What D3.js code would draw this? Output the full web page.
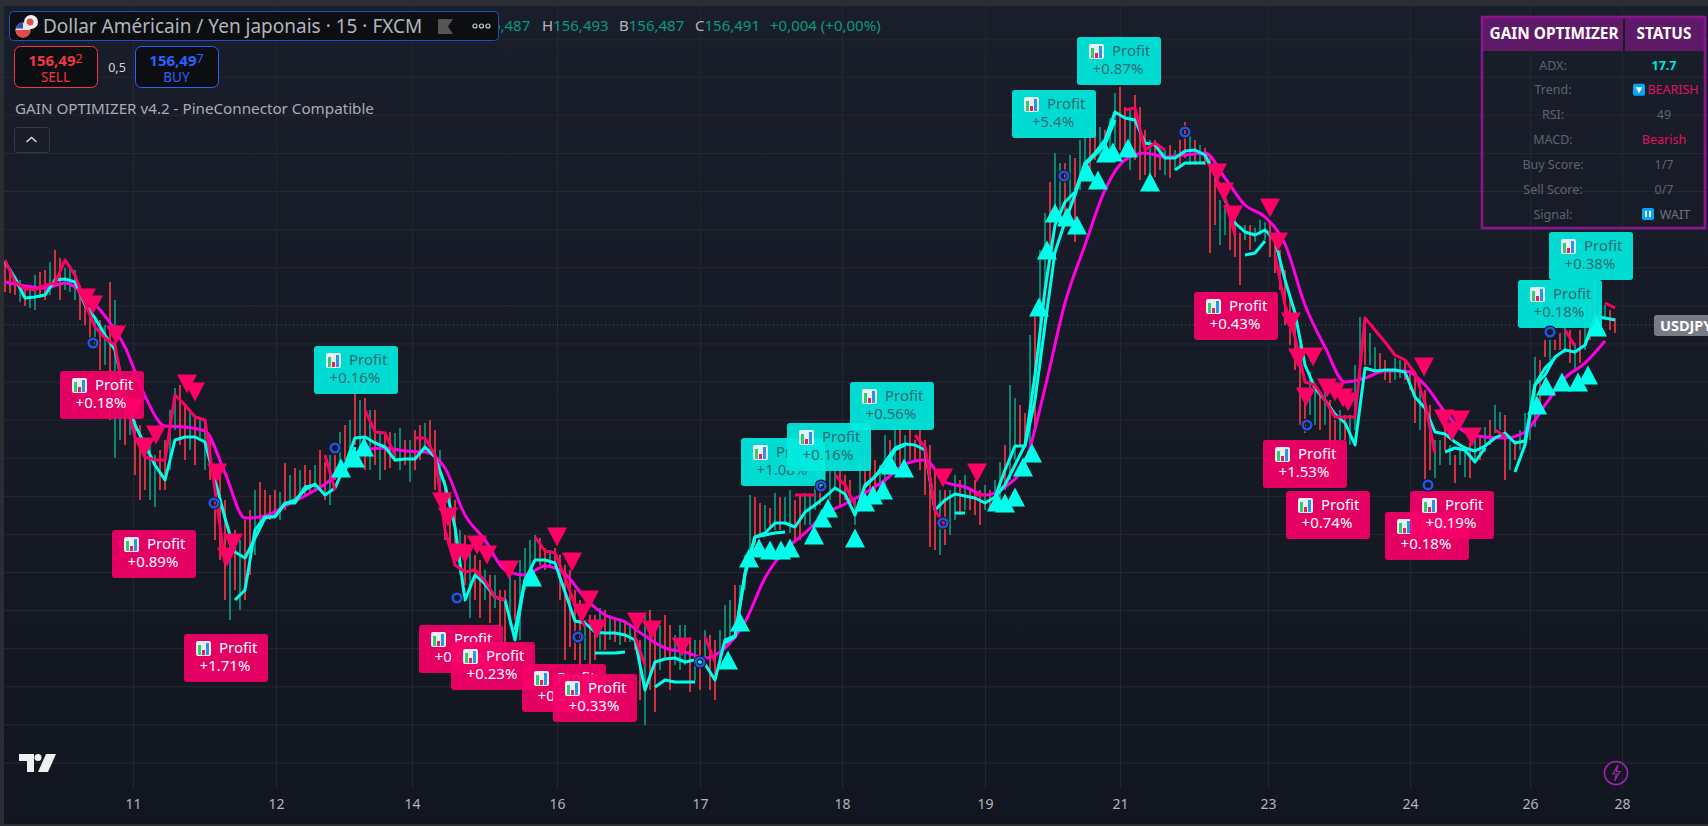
<!DOCTYPE html>
<html>
<head>
<meta charset="utf-8">
<title>USDJPY 15</title>
<script src="https://cdn.jsdelivr.net/npm/d3@7"></script>
<style>
html, body { margin: 0; padding: 0; background: #2a2e39; overflow: hidden; }
svg { display: block; }
text { font-family: "Noto Sans", sans-serif; }
</style>
</head>
<body>
<div id="chart"></div>
<script>
////////////////////////////////////////////////////////////////////////////////
// Data, read off the picture (one candle per slot, every line sampled on slots)
////////////////////////////////////////////////////////////////////////////////

var candleHigh = [
157.12,157.04,156.96,156.94,156.89,156.84,156.99,157.02,157.04,157.12,157.24,157.16,157.06,157.09,157.04,156.89,156.79,156.69,156.56,156.54,
156.49,156.92,156.74,155.84,155.74,155.69,155.54,155.49,155.24,155.34,155.19,155.24,155.34,155.64,155.86,155.89,155.69,155.64,155.59,155.54,
155.49,155.34,155.04,155.04,154.74,154.34,154.44,154.34,154.54,154.64,154.84,154.92,154.84,154.79,154.84,154.82,155.11,154.99,155.06,155.04,
155.09,155.04,155.09,155.24,155.12,155.19,155.19,155.42,155.49,155.54,155.81,155.74,155.76,155.64,155.64,155.42,155.39,155.42,155.41,155.46,
155.34,155.34,155.44,155.49,155.51,155.54,155.44,155.24,154.94,154.79,154.74,154.44,154.39,154.24,154.19,154.14,154.04,153.99,153.99,153.84,
153.84,153.99,153.94,154.14,154.26,154.34,154.39,154.36,154.26,154.24,154.26,154.19,154.09,154.04,153.84,153.74,153.54,153.59,153.59,153.66,
153.64,153.59,153.56,153.54,153.54,153.49,153.49,153.34,153.59,153.64,153.49,153.49,153.59,153.49,153.39,153.49,153.49,153.34,153.34,153.34,
153.44,153.39,153.34,153.44,153.69,153.74,153.89,153.89,154.19,154.79,154.77,154.71,154.69,154.66,154.81,154.77,154.77,154.84,154.74,154.79,
154.81,154.79,154.94,155.04,155.09,155.07,155.09,155.04,154.99,154.94,154.74,155.14,155.17,155.17,155.14,155.09,155.39,155.34,155.46,155.46,
155.39,155.46,155.34,155.44,155.34,155.29,155.04,154.84,154.84,154.84,154.99,154.94,154.99,154.84,154.94,154.84,154.89,154.84,154.94,155.12,
155.29,155.89,155.76,155.69,155.61,156.39,156.57,157.24,157.61,157.92,158.21,158.11,158.11,158.19,158.16,158.34,158.37,158.49,158.72,158.47,
158.44,158.56,158.81,158.87,158.67,158.64,158.79,158.67,158.44,158.34,158.34,158.24,158.24,158.29,158.24,158.34,158.52,158.44,158.34,158.29,
158.26,158.17,157.99,157.74,157.69,157.59,157.52,157.41,157.49,157.49,157.46,157.54,157.52,157.51,157.31,157.24,157.04,156.79,156.64,156.29,
155.84,156.02,155.91,155.81,155.84,155.74,155.54,155.64,155.59,155.59,156.09,156.57,156.56,156.41,156.27,156.21,156.14,156.04,156.16,156.14,
156.12,156.04,155.99,155.94,155.84,155.69,155.34,155.34,155.57,155.29,155.19,155.29,155.27,155.31,155.37,155.39,155.47,155.54,155.69,155.62,
155.59,155.34,155.34,155.44,155.61,155.94,156.17,156.14,156.34,156.34,156.34,156.41,156.47,156.44,156.31,156.44,156.67,156.77,156.94,156.69,
156.69,156.64,156.56];

var candleLow = [
156.82,156.81,156.79,156.72,156.68,156.66,156.64,156.76,156.74,156.79,156.89,156.74,156.84,156.82,156.74,156.54,156.49,156.32,156.29,156.04,
156.09,155.54,155.16,155.34,155.29,155.39,154.99,154.74,154.84,154.74,154.67,154.84,154.84,155.04,155.44,155.29,155.14,155.24,155.09,155.34,
155.04,154.94,154.34,154.14,153.74,153.54,153.84,153.64,153.74,153.99,154.19,154.44,154.54,154.54,154.59,154.54,154.64,154.69,154.74,154.74,
154.79,154.82,154.84,154.86,154.74,154.69,154.94,155.04,155.14,155.22,155.29,155.19,155.04,155.04,155.09,154.94,155.04,155.06,155.12,155.04,
155.09,154.92,155.04,155.14,155.26,155.24,154.84,154.74,154.34,154.29,154.14,153.99,153.89,153.56,153.74,153.56,153.74,153.51,153.66,153.34,
153.24,153.49,153.54,153.34,153.84,153.99,154.14,154.09,154.04,154.06,154.09,153.74,153.14,153.27,153.14,153.07,153.14,153.09,153.14,153.24,
153.24,153.34,153.32,153.29,153.32,153.32,153.24,152.74,152.49,152.84,152.62,153.04,153.14,152.84,153.09,153.04,153.09,152.82,152.94,152.84,
153.09,152.84,152.74,153.09,153.24,153.34,153.49,153.64,153.84,154.14,154.29,154.37,154.44,154.44,154.44,154.44,154.49,154.41,154.34,154.34,
154.49,154.49,154.64,154.69,154.84,154.74,154.87,154.69,154.74,154.69,154.49,154.64,154.74,154.84,154.79,154.84,154.84,154.99,155.04,155.09,
155.09,155.14,155.14,155.04,154.79,154.27,154.24,154.19,154.29,154.39,154.54,154.59,154.64,154.64,154.59,154.49,154.64,154.64,154.69,154.74,
154.84,154.94,155.14,155.29,155.29,155.29,155.44,156.04,156.84,157.24,157.59,157.49,157.54,157.59,157.32,157.84,157.94,158.04,158.14,158.19,
158.24,158.24,158.29,158.24,158.19,158.04,158.14,157.94,157.99,157.84,157.97,158.04,157.99,157.96,158.04,158.09,158.16,158.09,158.09,158.11,
158.09,157.21,157.49,157.29,157.39,157.24,157.17,156.89,157.34,157.24,157.32,157.39,157.34,157.17,157.01,156.84,156.49,156.29,156.04,155.49,
155.41,155.59,155.49,155.44,155.49,154.89,155.17,155.34,155.34,155.29,155.44,155.94,156.09,156.09,156.04,156.01,155.94,155.91,155.94,155.96,
155.94,155.84,155.51,155.44,154.94,155.04,154.96,155.09,155.24,155.09,154.91,155.09,154.97,154.96,155.11,155.14,155.22,155.29,155.41,155.44,
154.94,155.04,155.14,155.24,155.29,155.34,155.47,155.69,156.17,156.14,156.24,156.24,156.21,156.11,156.04,156.11,156.24,156.34,156.47,156.44,
156.54,156.44,156.41];

var candleDir = (
"rrrgrggrrgrrgggrrrgr" + "grggrgrrrggrrggrrgrg" + "grrrrgrgrrgrrrrgrgrg" + "rrgrrgrgrgrgrgrgrrgg" +
"rgrrgrrgrrrgrgrrgrgr" + "rgrggggrrgrrrrrrgrrg" + "rgrgrgrrgrrgrrgggrgr" + "grrgggrgggrrgrgrggrr" +
"gggrgggrrrggrrrggrgr" + "grrrrrrgrggrgrrrgrgg" + "rggrrgrggrggrgrggrrg" + "rggrrgrrrgrrgrgrrgrg" +
"rrrggrrrgrgggrrrrrrr" + "rggrgrrgrgggrggrrrgg" + "rrrgrrggrgrggrgrgrgg" + "rgrggggrrgrrgrgrgrrg" + "grr").split("");

// magenta slow average, one value every 4 slots
var slowLine = [
156.92,156.88,156.86,156.91,156.79,156.58,156.27,155.78,155.48,155.47,155.43,155.01,154.56,154.58,154.68,154.78,154.90,155.05,155.24,155.26,
155.23,155.22,155.06,154.59,154.34,154.04,153.99,154.08,154.00,153.76,153.59,153.52,153.38,153.26,153.22,153.16,153.26,153.52,153.96,154.24,
154.41,154.60,154.70,154.81,154.94,155.10,155.14,154.92,154.87,154.79,154.87,155.11,155.86,156.71,157.29,157.84,158.14,158.21,158.17,158.19,
158.21,157.96,157.69,157.57,157.30,156.69,156.27,155.92,155.96,156.03,156.03,155.89,155.62,155.42,155.37,155.36,155.42,155.69,155.96,156.11,
156.33];

// cyan fast average, one value every 2 slots
var fastLine = [
157.12,156.96,156.76,156.77,156.79,156.94,156.95,156.92,156.69,156.56,
156.39,156.24,155.79,155.49,155.29,155.09,154.94,155.34,155.37,155.37,
155.32,154.94,154.56,154.22,154.16,154.36,154.56,154.58,154.70,154.74,
154.84,154.90,154.79,154.86,155.09,155.36,155.37,155.31,155.27,155.14,
155.15,155.15,155.27,155.17,154.89,154.47,153.74,153.99,153.90,153.77,
153.74,153.34,153.94,154.14,154.14,154.11,153.82,153.53,153.51,153.42,
153.41,153.41,153.39,153.34,152.84,153.12,153.15,153.16,153.12,153.14,
153.10,152.94,153.34,153.38,153.99,154.37,154.41,154.51,154.51,154.47,
154.62,154.69,154.77,154.86,154.80,154.59,154.89,154.97,155.12,155.26,
155.30,155.29,155.24,154.64,154.74,154.80,154.78,154.76,154.71,154.77,
154.89,155.09,155.29,155.99,156.84,157.49,157.72,157.82,158.11,158.21,
158.34,158.62,158.56,158.54,158.31,158.29,158.16,158.16,158.23,158.24,
158.19,157.99,157.74,157.51,157.42,157.39,157.44,157.34,156.94,156.61,
156.09,155.86,155.74,155.60,155.51,155.29,156.06,156.03,156.04,156.04,
156.02,155.77,155.66,155.42,155.40,155.32,155.26,155.23,155.28,155.36,
155.41,155.31,155.33,155.89,155.99,156.17,156.24,156.22,156.29,156.57,
156.56,156.54];

// stepped trail, one value every 2 slots; pink inside bearRuns, cyan elsewhere
var trailLine = [
157.14,156.92,156.85,156.84,156.89,156.91,157.14,156.99,156.71,156.47,
156.36,156.29,155.74,155.37,155.17,155.14,155.14,155.79,155.69,155.57,
155.54,154.84,154.11,153.74,153.84,154.44,154.57,154.57,154.71,154.71,
154.87,154.89,155.19,154.84,155.04,155.27,155.64,155.42,155.41,155.19,
155.14,155.36,155.36,155.19,154.44,154.09,154.02,154.04,153.93,153.77,
153.74,153.44,153.94,154.37,154.23,154.21,153.96,153.69,153.47,153.21,
153.21,153.21,153.22,153.37,153.09,152.87,152.94,152.92,152.92,152.92,
153.37,153.12,153.31,153.37,154.01,154.37,154.39,154.41,154.42,154.79,
154.79,154.79,154.84,154.99,154.89,154.69,154.87,154.98,155.06,155.24,
155.29,155.39,155.27,154.64,154.49,154.61,154.61,154.79,154.79,154.77,
155.04,155.28,155.28,155.74,156.49,157.22,157.52,157.79,158.09,158.19,
158.29,158.54,158.64,158.66,158.24,158.31,158.24,158.04,158.11,158.11,
158.11,157.99,157.76,157.39,157.19,157.21,157.33,157.19,156.69,156.37,
155.92,155.89,155.74,155.57,155.57,155.57,156.56,156.44,156.32,156.19,
156.14,156.01,155.71,155.21,155.22,155.26,155.24,155.12,155.26,155.44,
155.38,155.02,155.29,155.89,156.06,156.16,156.44,156.28,156.29,156.54,
156.71,156.66];

var bearRuns = [[0,22],[32,33],[36,39],[41,50],[53,58],[63,64],[70,71],[79,81],[83,85],[91,94],[97,98],[112,116],[121,123],[127,143],[149,150],[156,157],[160,161]];

var sellBars = [16.2,17.6,22.2,25.6,28,30.2,36.4,38,42.4,45.6,44.4,87.4,88.6,90.4,92,94.4,96.4,100.8,110.4,113.4,116.8,115.4,118.4,126.4,129.4,135.4,187.6,194.4,242.4,243.8,245.6,253,254.6,257.2,258.6,261.6,260.2,264.4,266,267.6,268.6,283.8,287.8,291,289.4,293.4];
var sellPrices = [156.76,156.69,156.39,155.66,155.27,155.39,155.90,155.82,155.01,154.31,154.17,154.72,154.57,154.21,154.20,154.29,154.19,154.04,154.37,154.12,153.74,153.61,153.45,153.52,153.44,153.27,154.96,155.01,158.01,157.82,157.59,157.66,157.32,156.52,156.16,156.17,155.77,155.86,155.82,155.76,155.72,156.07,155.55,155.54,155.42,155.37];

var buyBars = [67.2,70,71.8,105.4,144.6,147,148.8,150.8,153,155.2,157,161.8,163.4,164.6,170,172,173.6,175.6,177.2,179.8,198.4,200,202,203.6,205.4,206.8,208.4,210,212.4,214.4,216.4,218.6,220.2,221.6,224.6,229,306.4,308.2,311.4,314.6,316.6,318.4];
var buyPrices = [155.06,155.16,155.27,153.97,153.14,153.52,154.16,154.26,154.24,154.24,154.26,154.39,154.56,154.66,154.36,154.72,154.79,154.84,155.09,155.06,154.72,154.71,154.77,155.07,155.21,156.67,157.24,157.61,157.57,157.49,158.02,157.94,158.21,158.22,158.26,157.92,155.69,155.88,155.92,155.92,155.99,156.47];

var ringBars = [17.6,41.8,66,90.4,114.6,139,163.2,187.6,211.8,236,260.4,284.6,309];
var ringPrices = [156.31,154.71,155.26,153.76,153.37,153.12,154.88,154.51,157.98,158.42,155.49,154.89,156.42];

var bearLabelBars = [19.4,29.8,44.2,91.2,97.6,111.8,118,246.2,260,264.6,284.4,289.4];
var bearLabelPrices = [156.03,154.44,153.40,153.49,153.32,153.10,153.00,156.82,155.34,154.83,154.62,154.83];
var bearLabelTexts = ["+0.18%","+0.89%","+1.71%","+0.62%","+0.23%","+0.25%","+0.33%","+0.43%","+1.53%","+0.74%","+0.18%","+0.19%"];

var bullLabelBars = [70.2,155.6,164.8,177.4,209.8,222.8,311,317.2];
var bullLabelPrices = [156.28,155.36,155.51,155.92,158.84,159.37,156.94,157.42];
var bullLabelTexts = ["+0.16%","+1.08%","+0.16%","+0.56%","+5.4%","+0.87%","+0.18%","+0.38%"];

var tickBars = [25.6,54.2,81.4,110.4,139,167.4,196,223,252.6,281,305,323.4];
var tickLabels = ["11","12","14","16","17","18","19","21","23","24","26","28"];

var tableLabels = ["ADX:","Trend:","RSI:","MACD:","Buy Score:","Sell Score:","Signal:"];
var tableValues = ["17.7","BEARISH","49","Bearish","1/7","0/7","WAIT"];

var lastPrice = 156.49;
var gridStep = 0.381;

////////////////////////////////////////////////////////////////////////////////
// Settings
////////////////////////////////////////////////////////////////////////////////

var width = 1708, height = 826;
var axisTop = 789;
var RED = "#f23645", GREEN = "#089981", PINK = "#ff0066", CYAN = "#00ffea", MAGENTA = "#ff00e0";

var svg = d3.select("#chart").append("svg").attr("width", width).attr("height", height);

var x = d3.scaleLinear().domain([0, 340.6]).range([5, width]);
var y = d3.scaleLinear().domain([159.74, 151.48]).range([0, height]);

var grad = svg.append("defs").append("linearGradient")
    .attr("id", "bg").attr("x1", 0).attr("x2", 0).attr("y1", 0).attr("y2", 1);
grad.append("stop").attr("offset", 0).attr("stop-color", "#1a1e2b");
grad.append("stop").attr("offset", 1).attr("stop-color", "#121620");

svg.append("rect").attr("width", width).attr("height", height).attr("fill", "#2a2e33");
svg.append("rect").attr("x", 4).attr("y", 6).attr("width", width - 4).attr("height", height - 8).attr("fill", "url(#bg)");

////////////////////////////////////////////////////////////////////////////////
// Grid and time axis
////////////////////////////////////////////////////////////////////////////////

svg.append("g").selectAll("line")
    .data(d3.range(152.11, 159.4, gridStep))
    .join("line")
    .attr("x1", 4).attr("x2", width)
    .attr("y1", function (d) { return y(d); }).attr("y2", function (d) { return y(d); })
    .attr("stroke", "#252933").attr("stroke-width", 1);

var xAxis = d3.axisBottom(x)
    .tickValues(tickBars)
    .tickFormat(function (d, i) { return tickLabels[i]; })
    .tickSize(-axisTop + 6)
    .tickPadding(10);

var axisG = svg.append("g").attr("transform", "translate(0," + axisTop + ")").call(xAxis);
axisG.select(".domain").remove();
axisG.selectAll("line").attr("stroke", "#22262f");
axisG.selectAll("text").attr("fill", "#b2b5be").attr("font-size", 14).attr("font-family", "'Noto Sans'");

svg.append("line")
    .attr("x1", 5).attr("x2", 1654)
    .attr("y1", y(lastPrice)).attr("y2", y(lastPrice))
    .attr("stroke", "#5d606b").attr("stroke-dasharray", "1 3");

////////////////////////////////////////////////////////////////////////////////
// Candles and lines
////////////////////////////////////////////////////////////////////////////////

svg.append("g").selectAll("line")
    .data(candleHigh)
    .join("line")
    .attr("x1", function (d, i) { return x(i); })
    .attr("x2", function (d, i) { return x(i); })
    .attr("y1", function (d) { return y(d); })
    .attr("y2", function (d, i) { return y(candleLow[i]); })
    .attr("stroke", function (d, i) { return candleDir[i] === "g" ? GREEN : RED; })
    .attr("stroke-width", 1.7);

var lineG = svg.append("g").attr("fill", "none").attr("stroke-linejoin", "round").attr("stroke-width", 3);

var slowPath = d3.line()
    .x(function (d, i) { return x(i * 4); })
    .y(function (d) { return y(d); })
    .curve(d3.curveMonotoneX);

var fastPath = d3.line()
    .x(function (d, i) { return x(i * 2); })
    .y(function (d) { return y(d); });

lineG.append("path").attr("d", slowPath(slowLine)).attr("stroke", MAGENTA);
lineG.append("path").attr("d", fastPath(fastLine)).attr("stroke", CYAN);

// trail: cut into runs so that each colour keeps its own gap
function inBearRun(k) {
    return bearRuns.some(function (r) { return k >= r[0] && k <= r[1]; });
}
var trailPoints = trailLine.map(function (v, k) { return { k: k, v: v, bear: inBearRun(k) }; });
var trailPath = d3.line()
    .x(function (d) { return x(d.k * 2); })
    .y(function (d) { return y(d.v); });
var runStart = 0;
trailPoints.forEach(function (p, k) {
    var next = trailPoints[k + 1];
    if (!next || next.bear !== p.bear) {
        lineG.append("path")
            .attr("d", trailPath(trailPoints.slice(runStart, k + 1)))
            .attr("stroke", p.bear ? PINK : CYAN);
        runStart = k + 1;
    }
});

////////////////////////////////////////////////////////////////////////////////
// Profit labels
////////////////////////////////////////////////////////////////////////////////

function drawLabels(bars, prices, texts, fill, textFill) {
    var g = svg.append("g");
    bars.forEach(function (b, i) {
        var left = x(b) - 42, top = y(prices[i]);
        var one = g.append("g").attr("transform", "translate(" + left + "," + top + ")");
        one.append("rect").attr("width", 84).attr("height", 48).attr("rx", 3)
            .attr("fill", fill).attr("fill-opacity", 0.93);
        // chart emoji
        var ic = one.append("g").attr("transform", "translate(12,7)");
        ic.append("rect").attr("width", 15).attr("height", 15).attr("rx", 2).attr("fill", "#eceff1");
        ic.append("rect").attr("x", 2).attr("y", 4).attr("width", 3).attr("height", 10).attr("fill", "#2ecc71");
        ic.append("rect").attr("x", 6).attr("y", 9).attr("width", 3).attr("height", 5).attr("fill", "#e91e63");
        ic.append("rect").attr("x", 10).attr("y", 2).attr("width", 3).attr("height", 12).attr("fill", "#2196f3");
        one.append("text").attr("x", 35).attr("y", 19).attr("font-size", 15)
            .attr("fill", textFill).text("Profit");
        one.append("text").attr("x", 41).attr("y", 37).attr("font-size", 15)
            .attr("text-anchor", "middle").attr("fill", textFill).text(texts[i]);
    });
}
drawLabels(bearLabelBars, bearLabelPrices, bearLabelTexts, "#f50068", "#ffffff");
drawLabels(bullLabelBars, bullLabelPrices, bullLabelTexts, "#00ebe0", "#2f6a72");

////////////////////////////////////////////////////////////////////////////////
// Markers
////////////////////////////////////////////////////////////////////////////////

function triangle(cx, cy, dir) {
    var p = d3.path();
    p.moveTo(cx - 10, cy - dir * 9.5);
    p.lineTo(cx + 10, cy - dir * 9.5);
    p.lineTo(cx, cy + dir * 9.5);
    p.closePath();
    return p.toString();
}

svg.append("g").selectAll("path")
    .data(buyBars)
    .join("path")
    .attr("d", function (d, i) { return triangle(x(d), y(buyPrices[i]), -1); })
    .attr("fill", CYAN);

svg.append("g").selectAll("path")
    .data(sellBars)
    .join("path")
    .attr("d", function (d, i) { return triangle(x(d), y(sellPrices[i]), 1); })
    .attr("fill", PINK);

var rings = svg.append("g");
rings.selectAll("circle.halo")
    .data(ringBars)
    .join("circle")
    .attr("class", "halo")
    .attr("cx", function (d) { return x(d); })
    .attr("cy", function (d, i) { return y(ringPrices[i]); })
    .attr("r", 4.3)
    .attr("fill", "none")
    .attr("stroke", "#131722")
    .attr("stroke-width", 4.6);
rings.selectAll("circle.ring")
    .data(ringBars)
    .join("circle")
    .attr("class", "ring")
    .attr("cx", function (d) { return x(d); })
    .attr("cy", function (d, i) { return y(ringPrices[i]); })
    .attr("r", 4.3)
    .attr("fill", "none")
    .attr("stroke", "#2155e0")
    .attr("stroke-width", 2.6);

////////////////////////////////////////////////////////////////////////////////
// Price tag at the right edge
////////////////////////////////////////////////////////////////////////////////

svg.append("rect").attr("x", 1654).attr("y", 315).attr("width", 70).attr("height", 21).attr("rx", 3).attr("fill", "#787b86");
svg.append("text").attr("x", 1660).attr("y", 331).attr("font-size", 14.5).attr("font-weight", 700)
    .attr("fill", "#ffffff").text("USDJPY");

////////////////////////////////////////////////////////////////////////////////
// Header: symbol box, OHLC, trade buttons, indicator title
////////////////////////////////////////////////////////////////////////////////

var ohlcItems = [["O", "156,487", 463], ["H", "156,493", 542], ["B", "156,487", 619], ["C", "156,491", 695]];
var head = svg.append("g");
ohlcItems.forEach(function (it) {
    var t = head.append("text").attr("x", it[2]).attr("y", 31).attr("font-size", 15).attr("fill", GREEN);
    t.append("tspan").attr("fill", "#b2b5be").text(it[0]);
    t.append("tspan").text(it[1]);
});
head.append("text").attr("x", 770).attr("y", 31).attr("font-size", 15).attr("fill", GREEN).text("+0,004 (+0,00%)");

head.append("rect").attr("x", 9.5).attr("y", 11.5).attr("width", 489).attr("height", 29).attr("rx", 4)
    .attr("fill", "#0d0e11").attr("stroke", "#1f4fc8");
// flags
head.append("circle").attr("cx", 31).attr("cy", 22).attr("r", 7).attr("fill", "#f4f4f4");
head.append("circle").attr("cx", 30).attr("cy", 22).attr("r", 3.5).attr("fill", "#e5484d");
head.append("circle").attr("cx", 23).attr("cy", 30).attr("r", 7.5).attr("fill", "#e8e8e8");
head.append("path").attr("d", "M15.5 30a7.5 7.5 0 0 0 15 0z").attr("fill", "#e5484d");
head.append("path").attr("d", "M16 27a7.5 7.5 0 0 1 7-4.5v6h-7.5z").attr("fill", "#2c4fb0");

head.append("text").attr("x", 43).attr("y", 33).attr("font-size", 19).attr("fill", "#b2b5be")
    .text("Dollar Américain  / Yen japonais · 15 · FXCM");
head.append("path").attr("d", "M438 19h15l-5 7.5 5 7.5h-15z").attr("fill", "#555");
[475, 481.5, 488].forEach(function (cx) {
    head.append("circle").attr("cx", cx).attr("cy", 26).attr("r", 2).attr("fill", "none")
        .attr("stroke", "#c8cad0").attr("stroke-width", 1.2);
});

function tradeBox(left, color, price, last, name) {
    var g = head.append("g").attr("transform", "translate(" + left + ",46.5)");
    g.append("rect").attr("width", 83).attr("height", 41).attr("rx", 6).attr("fill", "#0d0e11").attr("stroke", color);
    var t = g.append("text").attr("x", 41).attr("y", 19).attr("text-anchor", "middle")
        .attr("font-size", 15).attr("font-weight", 700).attr("fill", color).text(price);
    t.append("tspan").attr("font-size", 12.5).attr("dy", -3).attr("font-weight", 400).text(last);
    g.append("text").attr("x", 41).attr("y", 35).attr("text-anchor", "middle")
        .attr("font-size", 13.5).attr("fill", color).text(name);
}
tradeBox(14.5, RED, "156,49", "2", "SELL");
tradeBox(135.5, "#2962ff", "156,49", "7", "BUY");
head.append("text").attr("x", 117).attr("y", 72).attr("text-anchor", "middle").attr("font-size", 12.5)
    .attr("fill", "#d1d4dc").text("0,5");

head.append("text").attr("x", 15).attr("y", 114).attr("font-size", 15.2).attr("fill", "#a9acb5")
    .text("GAIN OPTIMIZER v4.2 - PineConnector Compatible");
head.append("rect").attr("x", 14.5).attr("y", 127.5).attr("width", 35).attr("height", 25).attr("rx", 3)
    .attr("fill", "none").attr("stroke", "#363a45");
head.append("path").attr("d", "M26.5 142l5-4.5 5 4.5").attr("fill", "none").attr("stroke", "#d1d4dc").attr("stroke-width", 1.6);

////////////////////////////////////////////////////////////////////////////////
// Status table
////////////////////////////////////////////////////////////////////////////////

var table = svg.append("g");
table.append("rect").attr("x", 1482).attr("y", 18).attr("width", 141).attr("height", 33).attr("fill", "#5e1a68");
table.append("rect").attr("x", 1625).attr("y", 18).attr("width", 79).attr("height", 33).attr("fill", "#5e1a68");
table.append("rect").attr("x", 1482).attr("y", 17).attr("width", 223).attr("height", 211)
    .attr("fill", "none").attr("stroke", "#8a168f").attr("stroke-width", 2.6);
table.append("text").attr("x", 1554).attr("y", 39).attr("text-anchor", "middle").attr("font-size", 15.4)
    .attr("font-weight", 700).attr("fill", "#ffffff").text("GAIN OPTIMIZER");
table.append("text").attr("x", 1664).attr("y", 39).attr("text-anchor", "middle").attr("font-size", 15.4)
    .attr("font-weight", 700).attr("fill", "#ffffff").text("STATUS");

var rowY = d3.scalePoint().domain(d3.range(tableLabels.length)).range([65, 214]);
var valueStyle = {
    "17.7": { fill: "#00e5d8", weight: 700, x: 1664 },
    "BEARISH": { fill: "#e0115f", weight: 400, x: 1673 },
    "Bearish": { fill: "#e0115f", weight: 400, x: 1664 },
    "WAIT": { fill: "#6f737f", weight: 400, x: 1675 }
};
tableLabels.forEach(function (name, i) {
    table.append("text").attr("x", 1553).attr("y", rowY(i) + 4.5).attr("text-anchor", "middle")
        .attr("font-size", 12.5).attr("fill", "#5f6370").text(name);
    var st = valueStyle[tableValues[i]] || { fill: "#5f6370", weight: 400, x: 1664 };
    table.append("text").attr("x", st.x).attr("y", rowY(i) + 4.5).attr("text-anchor", "middle")
        .attr("font-size", 12.5).attr("font-weight", st.weight).attr("fill", st.fill).text(tableValues[i]);
});
// trend and signal icons
table.append("rect").attr("x", 1633).attr("y", rowY(1) - 6).attr("width", 12).attr("height", 12).attr("rx", 2).attr("fill", "#03a9f4");
table.append("path").attr("d", "M1635.5 " + (rowY(1) - 2.5) + "h7l-3.5 6z").attr("fill", "#ffffff");
table.append("rect").attr("x", 1642).attr("y", rowY(6) - 6).attr("width", 12).attr("height", 12).attr("rx", 2).attr("fill", "#03a9f4");
table.append("rect").attr("x", 1645).attr("y", rowY(6) - 3).attr("width", 2).attr("height", 6).attr("fill", "#ffffff");
table.append("rect").attr("x", 1649).attr("y", rowY(6) - 3).attr("width", 2).attr("height", 6).attr("fill", "#ffffff");

////////////////////////////////////////////////////////////////////////////////
// Logo and bolt
////////////////////////////////////////////////////////////////////////////////

var logo = svg.append("g").attr("transform", "translate(19,754)");
logo.append("path").attr("d", "M0 0h15v18h-7v-11h-8z").attr("fill", "#f0f0f0");
logo.append("circle").attr("cx", 19).attr("cy", 3.5).attr("r", 3.5).attr("fill", "#f0f0f0");
logo.append("path").attr("d", "M27 0h10l-8 18h-10z").attr("fill", "#f0f0f0");

svg.append("circle").attr("cx", 1616).attr("cy", 773).attr("r", 11.5).attr("fill", "none")
    .attr("stroke", "#9c27b0").attr("stroke-width", 1.6);
svg.append("path").attr("d", "M1618 765l-5 9h3.5l-2 7 5.5-9.5h-3.5z").attr("fill", "none")
    .attr("stroke", "#9c27b0").attr("stroke-width", 1.2);
</script>
</body>
</html>
